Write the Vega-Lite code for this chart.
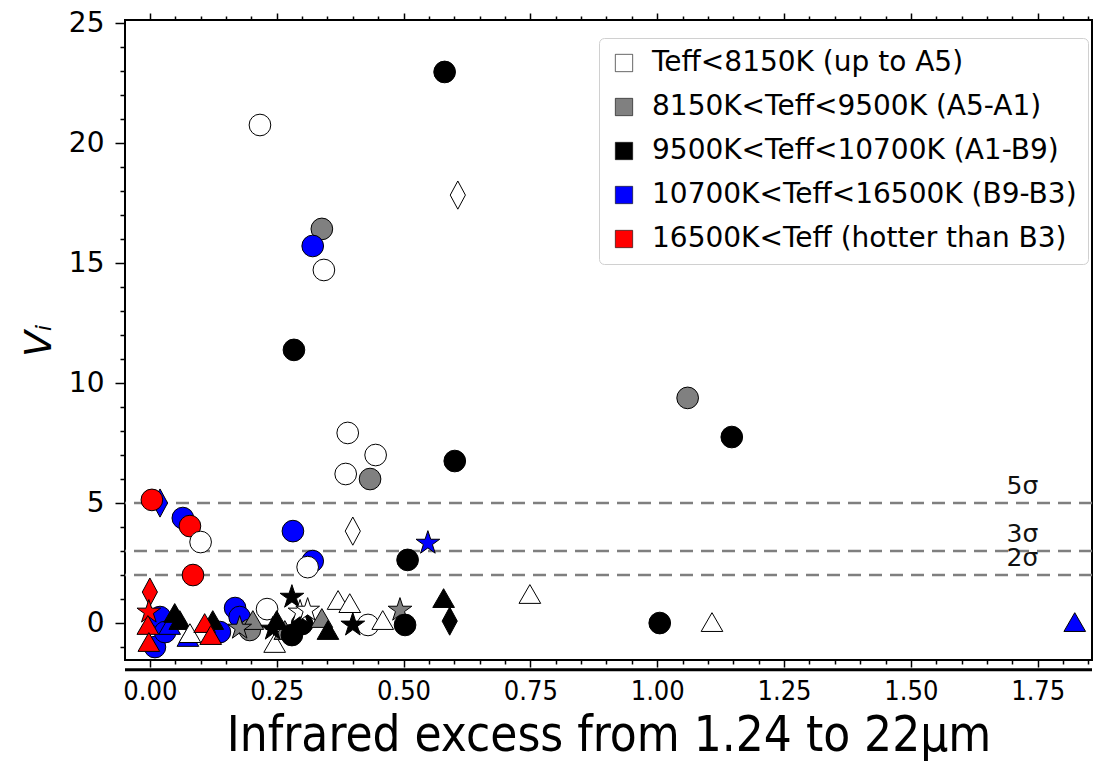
{
  "$schema": "https://vega.github.io/schema/vega-lite/v6.json",
  "width": 967,
  "height": 640,
  "autosize": {"type": "none"},
  "padding": {"left": 125, "top": 20, "right": 12, "bottom": 102},
  "background": "white",
  "config": {
    "view": {"stroke": "black", "strokeWidth": 2},
    "axis": {"domain": false, "grid": false, "tickColor": "black", "labelColor": "black", "titleColor": "black", "labelOverlap": false}
  },
  "resolve": {"scale": {"x": "independent", "y": "independent"}, "axis": {"x": "independent", "y": "independent"}},
  "layer": [
    {
      "data": {"values": [{"level": 5}, {"level": 3}, {"level": 2}]},
      "mark": {"type": "rule", "color": "#7f7f7f", "strokeWidth": 2.6, "strokeDash": [13, 8]},
      "encoding": {
        "y": {
          "field": "level", "type": "quantitative",
          "scale": {"domain": [-1.54, 25.125], "nice": false, "zero": false},
          "axis": {
            "orient": "left",
            "values": [0, 5, 10, 15, 20, 25],
            "tickSize": 10,
            "tickWidth": 1.5,
            "labelFont": "DejaVu Sans", "labelFontSize": 28, "labelPadding": 11,
            "title": "Vᵢ", "titleFont": "DejaVu Sans", "titleFontSize": 38, "titleFontStyle": "italic",
            "titleFontWeight": "normal", "titlePadding": 10
          }
        }
      }
    },
    {
      "data": {"values": [{"level": 5, "label": "5σ"}, {"level": 3, "label": "3σ"}, {"level": 2, "label": "2σ"}]},
      "mark": {"type": "text", "font": "DejaVu Sans", "fontSize": 25, "baseline": "bottom", "align": "center", "dy": -4, "color": "#111111"},
      "encoding": {
        "x": {
          "datum": 1.72, "type": "quantitative",
          "scale": {"domain": [-0.049, 1.857], "nice": false, "zero": false},
          "axis": {
            "orient": "top", "labels": false, "title": null,
            "values": [0,0.05,0.1,0.15,0.2,0.25,0.3,0.35,0.4,0.45,0.5,0.55,0.6,0.65,0.7,0.75,0.8,0.85,0.9,0.95,1,1.05,1.1,1.15,1.2,1.25,1.3,1.35,1.4,1.45,1.5,1.55,1.6,1.65,1.7,1.75,1.8,1.85],
            "tickSize": {"condition": {"test": "abs(datum.value*4 - round(datum.value*4)) < 0.001", "value": 7}, "value": 4},
            "tickWidth": 1.5
          }
        },
        "y": {
          "field": "level", "type": "quantitative",
          "scale": {"domain": [-1.54, 25.125], "nice": false, "zero": false},
          "axis": null
        },
        "text": {"field": "label"}
      }
    },
    {
      "data": {"values": [{"level": -1.95}]},
      "mark": {"type": "rule", "color": "black", "strokeWidth": 3, "clip": false},
      "encoding": {
        "y": {
          "field": "level", "type": "quantitative",
          "scale": {"domain": [-1.54, 25.125], "nice": false, "zero": false},
          "axis": {
            "orient": "right", "offset": -967, "labels": false, "title": null,
            "values": [-1,1,2,3,4,6,7,8,9,11,12,13,14,16,17,18,19,21,22,23,24],
            "tickSize": -5, "tickWidth": 1.5
          }
        }
      }
    },
    {
      "data": {"values": [
        {"x": 0.581, "y": 22.96, "group": "K", "kind": "circle"},
        {"x": 0.217, "y": 20.75, "group": "W", "kind": "circle"},
        {"x": 0.607, "y": 17.83, "group": "W", "kind": "diamond"},
        {"x": 0.339, "y": 16.42, "group": "G", "kind": "circle"},
        {"x": 0.321, "y": 15.71, "group": "B", "kind": "circle"},
        {"x": 0.343, "y": 14.71, "group": "W", "kind": "circle"},
        {"x": 0.284, "y": 11.38, "group": "K", "kind": "circle"},
        {"x": 1.060, "y": 9.38, "group": "G", "kind": "circle"},
        {"x": 1.147, "y": 7.75, "group": "K", "kind": "circle"},
        {"x": 0.390, "y": 7.92, "group": "W", "kind": "circle"},
        {"x": 0.445, "y": 7.0, "group": "W", "kind": "circle"},
        {"x": 0.601, "y": 6.75, "group": "K", "kind": "circle"},
        {"x": 0.386, "y": 6.21, "group": "W", "kind": "circle"},
        {"x": 0.434, "y": 6.0, "group": "G", "kind": "circle"},
        {"x": 0.020, "y": 5.0, "group": "B", "kind": "diamond"},
        {"x": 0.004, "y": 5.13, "group": "R", "kind": "circle"},
        {"x": 0.065, "y": 4.375, "group": "B", "kind": "circle"},
        {"x": 0.079, "y": 4.04, "group": "R", "kind": "circle"},
        {"x": 0.100, "y": 3.375, "group": "W", "kind": "circle"},
        {"x": 0.282, "y": 3.83, "group": "B", "kind": "circle"},
        {"x": 0.400, "y": 3.83, "group": "W", "kind": "diamond"},
        {"x": 0.321, "y": 2.58, "group": "B", "kind": "circle"},
        {"x": 0.311, "y": 2.33, "group": "W", "kind": "circle"},
        {"x": 0.508, "y": 2.63, "group": "K", "kind": "circle"},
        {"x": 0.548, "y": 3.33, "group": "B", "kind": "star"},
        {"x": 0.085, "y": 2.0, "group": "R", "kind": "circle"},
        {"x": 0.749, "y": 1.21, "group": "W", "kind": "triangle"},
        {"x": 1.005, "y": 0.0, "group": "K", "kind": "circle"},
        {"x": 1.108, "y": 0.04, "group": "W", "kind": "triangle"},
        {"x": 1.823, "y": 0.04, "group": "B", "kind": "triangle"},
        {"x": 0.579, "y": 1.04, "group": "K", "kind": "triangle"},
        {"x": 0.591, "y": 0.08, "group": "K", "kind": "diamond"},
        {"x": 0.010, "y": -1.0, "group": "B", "kind": "circle"},
        {"x": 0.020, "y": 0.25, "group": "B", "kind": "circle"},
        {"x": 0.030, "y": -0.375, "group": "B", "kind": "circle"},
        {"x": 0.039, "y": -0.08, "group": "B", "kind": "triangle"},
        {"x": 0.000, "y": 1.29, "group": "R", "kind": "diamond"},
        {"x": -0.002, "y": 0.46, "group": "R", "kind": "star"},
        {"x": -0.004, "y": -0.08, "group": "R", "kind": "triangle"},
        {"x": -0.002, "y": -0.79, "group": "R", "kind": "triangle"},
        {"x": 0.049, "y": 0.42, "group": "K", "kind": "triangle"},
        {"x": 0.059, "y": 0.125, "group": "K", "kind": "triangle"},
        {"x": 0.075, "y": -0.58, "group": "B", "kind": "triangle"},
        {"x": 0.079, "y": -0.42, "group": "W", "kind": "triangle"},
        {"x": 0.138, "y": -0.375, "group": "B", "kind": "circle"},
        {"x": 0.124, "y": 0.125, "group": "K", "kind": "triangle"},
        {"x": 0.108, "y": 0.0, "group": "R", "kind": "triangle"},
        {"x": 0.120, "y": -0.5, "group": "R", "kind": "triangle"},
        {"x": 0.168, "y": 0.625, "group": "B", "kind": "circle"},
        {"x": 0.177, "y": 0.25, "group": "B", "kind": "circle"},
        {"x": 0.197, "y": -0.29, "group": "G", "kind": "circle"},
        {"x": 0.203, "y": 0.125, "group": "G", "kind": "triangle"},
        {"x": 0.177, "y": -0.21, "group": "G", "kind": "star"},
        {"x": 0.231, "y": 0.58, "group": "W", "kind": "circle"},
        {"x": 0.246, "y": -0.83, "group": "W", "kind": "triangle"},
        {"x": 0.266, "y": -0.29, "group": "G", "kind": "triangle"},
        {"x": 0.250, "y": 0.125, "group": "K", "kind": "triangle"},
        {"x": 0.242, "y": -0.25, "group": "K", "kind": "star"},
        {"x": 0.280, "y": 1.08, "group": "K", "kind": "star"},
        {"x": 0.280, "y": -0.5, "group": "K", "kind": "circle"},
        {"x": 0.300, "y": -0.04, "group": "K", "kind": "circle"},
        {"x": 0.296, "y": 0.46, "group": "W", "kind": "star"},
        {"x": 0.311, "y": 0.54, "group": "W", "kind": "star"},
        {"x": 0.339, "y": 0.21, "group": "G", "kind": "triangle"},
        {"x": 0.351, "y": -0.29, "group": "K", "kind": "triangle"},
        {"x": 0.371, "y": 0.96, "group": "W", "kind": "triangle"},
        {"x": 0.394, "y": 0.83, "group": "W", "kind": "triangle"},
        {"x": 0.430, "y": -0.08, "group": "W", "kind": "circle"},
        {"x": 0.400, "y": -0.08, "group": "K", "kind": "star"},
        {"x": 0.459, "y": 0.125, "group": "W", "kind": "triangle"},
        {"x": 0.493, "y": 0.54, "group": "G", "kind": "star"},
        {"x": 0.503, "y": -0.08, "group": "K", "kind": "circle"}
      ]},
      "mark": {"type": "point", "filled": true, "opacity": 1, "stroke": "black", "strokeWidth": 1, "size": 470},
      "encoding": {
        "x": {
          "field": "x", "type": "quantitative",
          "scale": {"domain": [-0.049, 1.857], "nice": false, "zero": false},
          "axis": {
            "orient": "bottom",
            "values": [0,0.05,0.1,0.15,0.2,0.25,0.3,0.35,0.4,0.45,0.5,0.55,0.6,0.65,0.7,0.75,0.8,0.85,0.9,0.95,1,1.05,1.1,1.15,1.2,1.25,1.3,1.35,1.4,1.45,1.5,1.55,1.6,1.65,1.7,1.75,1.8,1.85],
            "labelExpr": "abs(datum.value*4 - round(datum.value*4)) < 0.001 ? format(datum.value, '.2f') : ''",
            "labelOverlap": false,
            "tickSize": {"condition": {"test": "abs(datum.value*4 - round(datum.value*4)) < 0.001", "value": 7}, "value": 4},
            "tickWidth": 1.5,
            "labelFont": "DejaVu Sans Condensed, Liberation Sans Narrow, DejaVu Sans", "labelFontSize": 27, "labelPadding": 11,
            "title": "Infrared excess from 1.24 to 22μm",
            "titleFont": "DejaVu Sans Condensed, DejaVu Sans", "titleFontSize": 49, "titleFontWeight": "normal",
            "titlePadding": 7
          }
        },
        "y": {
          "field": "y", "type": "quantitative",
          "scale": {"domain": [-1.54, 25.125], "nice": false, "zero": false},
          "axis": null
        },
        "color": {
          "field": "group", "type": "nominal",
          "scale": {
            "domain": ["W", "G", "K", "B", "R"],
            "range": ["#ffffff", "#808080", "#000000", "#0000ff", "#ff0000"]
          },
          "legend": {
            "orient": "none", "legendX": 474, "legendY": 18,
            "title": null,
            "labelExpr": "{'W': 'Teff<8150K (up to A5)', 'G': '8150K<Teff<9500K (A5-A1)', 'K': '9500K<Teff<10700K (A1-B9)', 'B': '10700K<Teff<16500K (B9-B3)', 'R': '16500K<Teff (hotter than B3)'}[datum.value]",
            "labelFont": "DejaVu Sans", "labelFontSize": 28, "labelColor": "black", "labelLimit": 700,
            "symbolType": "square", "symbolSize": 300, "symbolStrokeColor": "black", "symbolStrokeWidth": 0.6,
            "rowPadding": 16, "padding": 11, "labelOffset": 14,
            "strokeColor": "#d0d0d0", "fillColor": "white", "cornerRadius": 5
          }
        },
        "shape": {
          "field": "kind", "type": "nominal",
          "scale": {
            "domain": ["circle", "triangle", "star", "diamond"],
            "range": ["circle", "triangle-up", "M0,-1.15L0.26,-0.355L1.094,-0.355L0.417,0.136L0.676,0.93L0,0.44L-0.676,0.93L-0.417,0.136L-1.094,-0.355L-0.26,-0.355Z", "M0,-1.3L0.7,0L0,1.3L-0.7,0Z"]
          },
          "legend": null
        }
      }
    }
  ]
}
